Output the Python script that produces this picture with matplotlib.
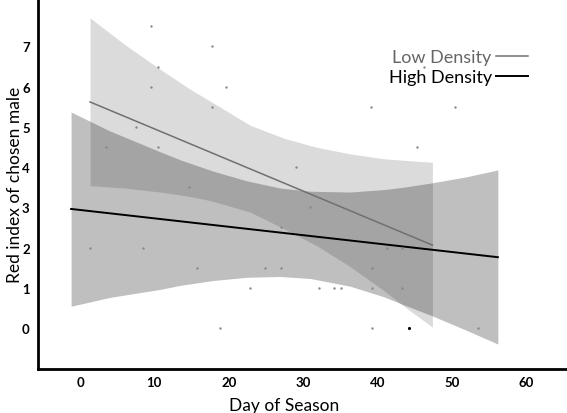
import numpy as np
import matplotlib
matplotlib.use('Agg')
import matplotlib.pyplot as plt

plt.rcParams['font.family'] = ['Lato', 'DejaVu Sans']

#%% Data
# raw observations
day = [9.6, 17.7, 10.5, 9.6, 19.7, 17.7, 7.5, 3.5, 10.5, 14.7, 1.4, 8.5,
       15.7, 22.9, 18.8, 31.0, 27.0, 24.9, 27.0, 39.3, 41.3, 43.3, 32.1,
       34.1, 35.1, 39.3, 43.3, 39.3, 53.5, 39.2, 50.5, 45.3, 29.0, 46.3]
red = [7.5, 7.0, 6.5, 6.0, 6.0, 5.5, 5.0, 4.5, 4.5, 3.5, 2.0, 2.0,
       1.5, 1.0, 0.0, 3.0, 2.5, 1.5, 1.5, 1.5, 2.0, 2.0, 1.0,
       1.0, 1.0, 1.0, 1.0, 0.0, 0.0, 5.5, 5.5, 4.5, 4.0, 6.5]
day_dark = [44.3]
red_dark = [0.0]

# low density fit + confidence band
low_fit_x = [1.35, 47.4]
low_fit_y = [5.62, 2.06]
low_band_x = [1.35, 6.0, 10.8, 14.8, 17.7, 22.9, 27.4, 31.9, 36.3, 40.8, 43.5, 47.4]
low_band_hi = [7.71, 7.05, 6.43, 5.94, 5.62, 5.04, 4.72, 4.49, 4.33, 4.21, 4.17, 4.12]
low_band_lo = [3.54, 3.48, 3.38, 3.27, 3.16, 2.88, 2.47, 2.04, 1.53, 0.94, 0.55, 0.02]

# high density fit + confidence band
high_fit_x = [-1.2, 56.2]
high_fit_y = [2.96, 1.76]
high_band_x = [-1.2, 4.0, 10.8, 13.5, 17.9, 22.4, 26.9, 31.0, 36.3, 40.8, 43.5, 47.4, 52.0, 56.2]
high_band_hi = [5.37, 4.90, 4.38, 4.18, 3.90, 3.66, 3.48, 3.40, 3.38, 3.44, 3.50, 3.61, 3.76, 3.93]
high_band_lo = [0.54, 0.76, 0.96, 1.06, 1.18, 1.26, 1.28, 1.23, 1.04, 0.78, 0.58, 0.30, -0.06, -0.40]

xticks = [0, 10, 20, 30, 40, 50, 60]
yticks = [0, 1, 2, 3, 4, 5, 6, 7]

#%% Figure
fig = plt.figure(figsize=(5.67, 4.14), dpi=100)
ax = fig.add_axes([38/567, 44/414, 1 - 38/567, 1 - 44/414])

ax.fill_between(high_band_x, high_band_lo, high_band_hi, color='black',
                alpha=0.25, linewidth=0, zorder=1)
ax.fill_between(low_band_x, low_band_lo, low_band_hi, color='black',
                alpha=0.14, linewidth=0, zorder=2)

ax.plot(low_fit_x, low_fit_y, color='#707070', linewidth=1.1, zorder=3,
        label='Low Density')
ax.plot(high_fit_x, high_fit_y, color='black', linewidth=1.4, zorder=3,
        label='High Density')

ax.scatter(day, red, s=3, color='#888888', linewidths=0, zorder=4)
ax.scatter(day_dark, red_dark, s=5, color='black', linewidths=0, zorder=4)

ax.set_xlim(-5.65, 65.5)
ax.set_ylim(-1.02, 8.18)
ax.set_xticks(xticks)
ax.set_yticks(yticks)
ax.tick_params(axis='both', length=0, labelsize=9.5)
ax.tick_params(axis='y', pad=6)
ax.tick_params(axis='x', pad=5)
for lab in ax.get_xticklabels() + ax.get_yticklabels():
    lab.set_fontweight('bold')

for s in ['top', 'right']:
    ax.spines[s].set_visible(False)
for s in ['left', 'bottom']:
    ax.spines[s].set_linewidth(2)
    ax.spines[s].set_color('black')

ax.set_xlabel('Day of Season', fontsize=12.5)
ax.set_ylabel('Red index of chosen male', fontsize=12.5)
ax.xaxis.set_label_coords(0.465, -0.075)
ax.yaxis.set_label_coords(-0.028, 0.5)

leg = ax.legend(loc='upper left', bbox_to_anchor=(0.632, 0.908), frameon=False,
                markerfirst=False, fontsize=13, handlelength=1.75,
                handletextpad=0.25, labelspacing=0.2,
                labelcolor=['#666666', 'black'])

fig.savefig('out.png', dpi=100)
